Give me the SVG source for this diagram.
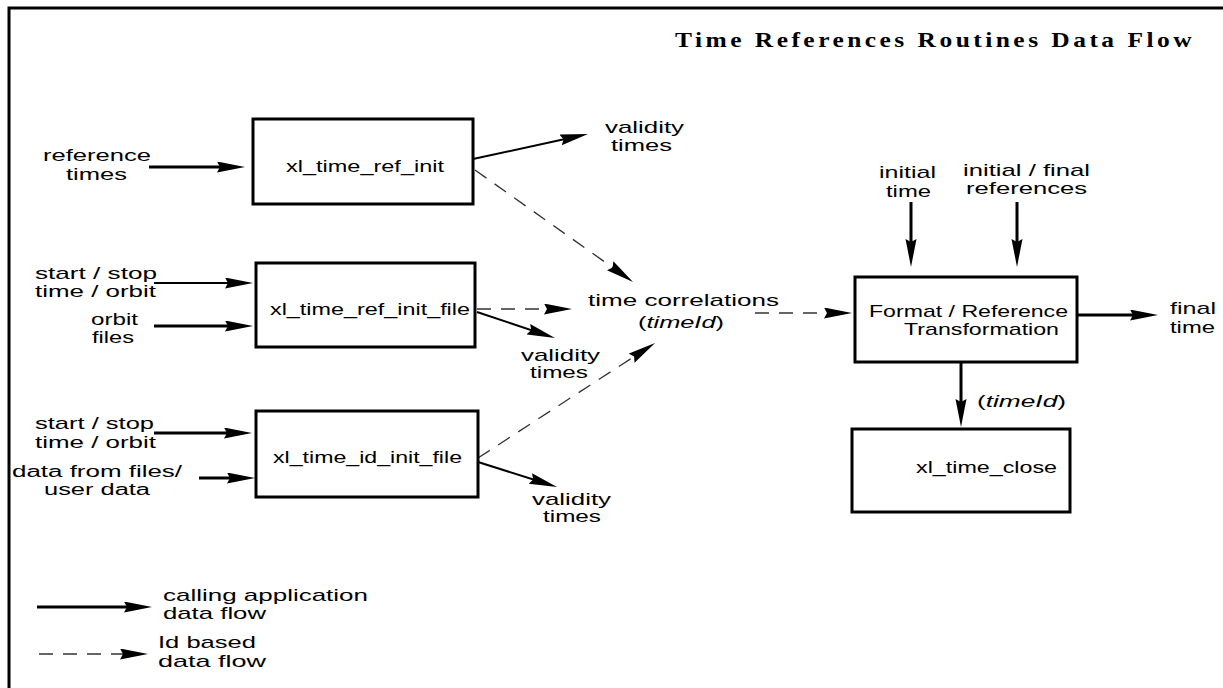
<svg xmlns="http://www.w3.org/2000/svg" width="1223" height="688" viewBox="0 0 1223 688">
<defs>
<marker id="ah" markerUnits="userSpaceOnUse" markerWidth="30" markerHeight="12" refX="14" refY="5.5" orient="auto">
<path d="M0,0 L28,5.5 L0,11 L3,5.5 z" fill="#000"/>
</marker>
</defs>
<style>
text{font-family:"Liberation Sans",Arial,sans-serif;font-size:17px;fill:#000}
.title{font-family:"Liberation Serif","Times New Roman",serif;font-size:22px;font-weight:bold;letter-spacing:3px}
.sm{font-size:16px}
.box{fill:#fff;stroke:#000;stroke-width:3}
.s{stroke:#000;stroke-width:3;fill:none;marker-end:url(#ah)}
.t{stroke:#000;stroke-width:2;fill:none;marker-end:url(#ah)}
.d{stroke:#333;stroke-width:1.3;stroke-dasharray:14 10;fill:none;marker-end:url(#ah)}
</style>
<rect x="9" y="8" width="1230" height="700" fill="#fff" stroke="#000" stroke-width="3"/>
<text class="title" x="675" y="47" textLength="520" lengthAdjust="spacingAndGlyphs">Time References Routines Data Flow</text>

<g id="connectors">
<line class="s" x1="149" y1="167" x2="231" y2="167"/>
<line class="t" x1="154" y1="283" x2="239" y2="283"/>
<line class="s" x1="154" y1="326" x2="239" y2="326"/>
<line class="s" x1="154" y1="433" x2="238" y2="433"/>
<line class="s" x1="199" y1="478" x2="241" y2="478"/>
<line class="t" x1="473" y1="159" x2="574.3" y2="137"/>
<line class="t" x1="477" y1="312" x2="541.7" y2="333.6"/>
<line class="t" x1="478" y1="462" x2="543.7" y2="482.8"/>
<line class="s" x1="1077" y1="315" x2="1144" y2="315"/>
<line class="s" x1="911" y1="202" x2="911" y2="253"/>
<line class="s" x1="1017" y1="202" x2="1017" y2="253"/>
<line class="s" x1="961" y1="362" x2="961" y2="413"/>
<line class="d" x1="475" y1="170" x2="621.6" y2="273.9"/>
<line class="d" x1="477" y1="309" x2="558" y2="309"/>
<line class="d" x1="478" y1="458" x2="643.3" y2="350.6"/>
<line class="d" x1="755" y1="313" x2="838" y2="313"/>
<line class="s" x1="37" y1="607" x2="138" y2="607"/>
<line class="d" x1="39" y1="654" x2="134" y2="654"/>
</g>

<g id="ref_init">
<rect class="box" x="253" y="119" width="220" height="85"/>
<text x="286" y="172" textLength="158" lengthAdjust="spacingAndGlyphs">xl_time_ref_init</text>
</g>
<g id="ref_init_file">
<rect class="box" x="256" y="263" width="219" height="84"/>
<text x="270" y="315" textLength="200" lengthAdjust="spacingAndGlyphs">xl_time_ref_init_file</text>
</g>
<g id="id_init_file">
<rect class="box" x="256" y="411" width="222" height="86"/>
<text x="273" y="463" textLength="189" lengthAdjust="spacingAndGlyphs">xl_time_id_init_file</text>
</g>
<g id="format">
<rect class="box" x="855" y="277" width="222" height="85"/>
<text x="869" y="317" textLength="199" lengthAdjust="spacingAndGlyphs">Format / Reference</text>
<text x="904" y="335" textLength="155" lengthAdjust="spacingAndGlyphs">Transformation</text>
</g>
<g id="close">
<rect class="box" x="852" y="429" width="218" height="83"/>
<text x="916" y="473" textLength="141" lengthAdjust="spacingAndGlyphs">xl_time_close</text>
</g>
<g id="time_correlations">
<text x="588" y="306" textLength="191" lengthAdjust="spacingAndGlyphs">time correlations</text>
<text x="638" y="328" textLength="86" lengthAdjust="spacingAndGlyphs">(<tspan font-style="italic">timeId</tspan>)</text>
</g>

<g id="labels">
<text x="43" y="161" textLength="108" lengthAdjust="spacingAndGlyphs">reference</text>
<text x="66" y="180" textLength="61" lengthAdjust="spacingAndGlyphs">times</text>
<text x="35" y="279" textLength="122" lengthAdjust="spacingAndGlyphs">start / stop</text>
<text x="35" y="297" textLength="121" lengthAdjust="spacingAndGlyphs">time / orbit</text>
<text x="91" y="325" textLength="47" lengthAdjust="spacingAndGlyphs">orbit</text>
<text x="92" y="343" textLength="42" lengthAdjust="spacingAndGlyphs">files</text>
<text x="35" y="429" textLength="119" lengthAdjust="spacingAndGlyphs">start / stop</text>
<text x="35" y="448" textLength="121" lengthAdjust="spacingAndGlyphs">time / orbit</text>
<text class="sm" x="12" y="477" textLength="170" lengthAdjust="spacingAndGlyphs">data from files/</text>
<text class="sm" x="44" y="495" textLength="106" lengthAdjust="spacingAndGlyphs">user data</text>
<text x="605" y="133" textLength="79" lengthAdjust="spacingAndGlyphs">validity</text>
<text x="611" y="151" textLength="61" lengthAdjust="spacingAndGlyphs">times</text>
<text x="521" y="361" textLength="79" lengthAdjust="spacingAndGlyphs">validity</text>
<text x="530" y="378" textLength="58" lengthAdjust="spacingAndGlyphs">times</text>
<text x="532" y="505" textLength="79" lengthAdjust="spacingAndGlyphs">validity</text>
<text x="543" y="522" textLength="58" lengthAdjust="spacingAndGlyphs">times</text>
<text x="879" y="178" textLength="57" lengthAdjust="spacingAndGlyphs">initial</text>
<text x="886" y="197" textLength="45" lengthAdjust="spacingAndGlyphs">time</text>
<text x="963" y="176" textLength="127" lengthAdjust="spacingAndGlyphs">initial / final</text>
<text x="966" y="194" textLength="121" lengthAdjust="spacingAndGlyphs">references</text>
<text x="1170" y="314" textLength="46" lengthAdjust="spacingAndGlyphs">final</text>
<text x="1170" y="333" textLength="45" lengthAdjust="spacingAndGlyphs">time</text>
<text x="977" y="407" textLength="89" lengthAdjust="spacingAndGlyphs">(<tspan font-style="italic">timeId</tspan>)</text>
</g>

<g id="legend">
<text x="163" y="601" textLength="205" lengthAdjust="spacingAndGlyphs">calling application</text>
<text x="163" y="619" textLength="103" lengthAdjust="spacingAndGlyphs">data flow</text>
<text x="158" y="648" textLength="98" lengthAdjust="spacingAndGlyphs">Id based</text>
<text x="158" y="667" textLength="108" lengthAdjust="spacingAndGlyphs">data flow</text>
</g>
</svg>
